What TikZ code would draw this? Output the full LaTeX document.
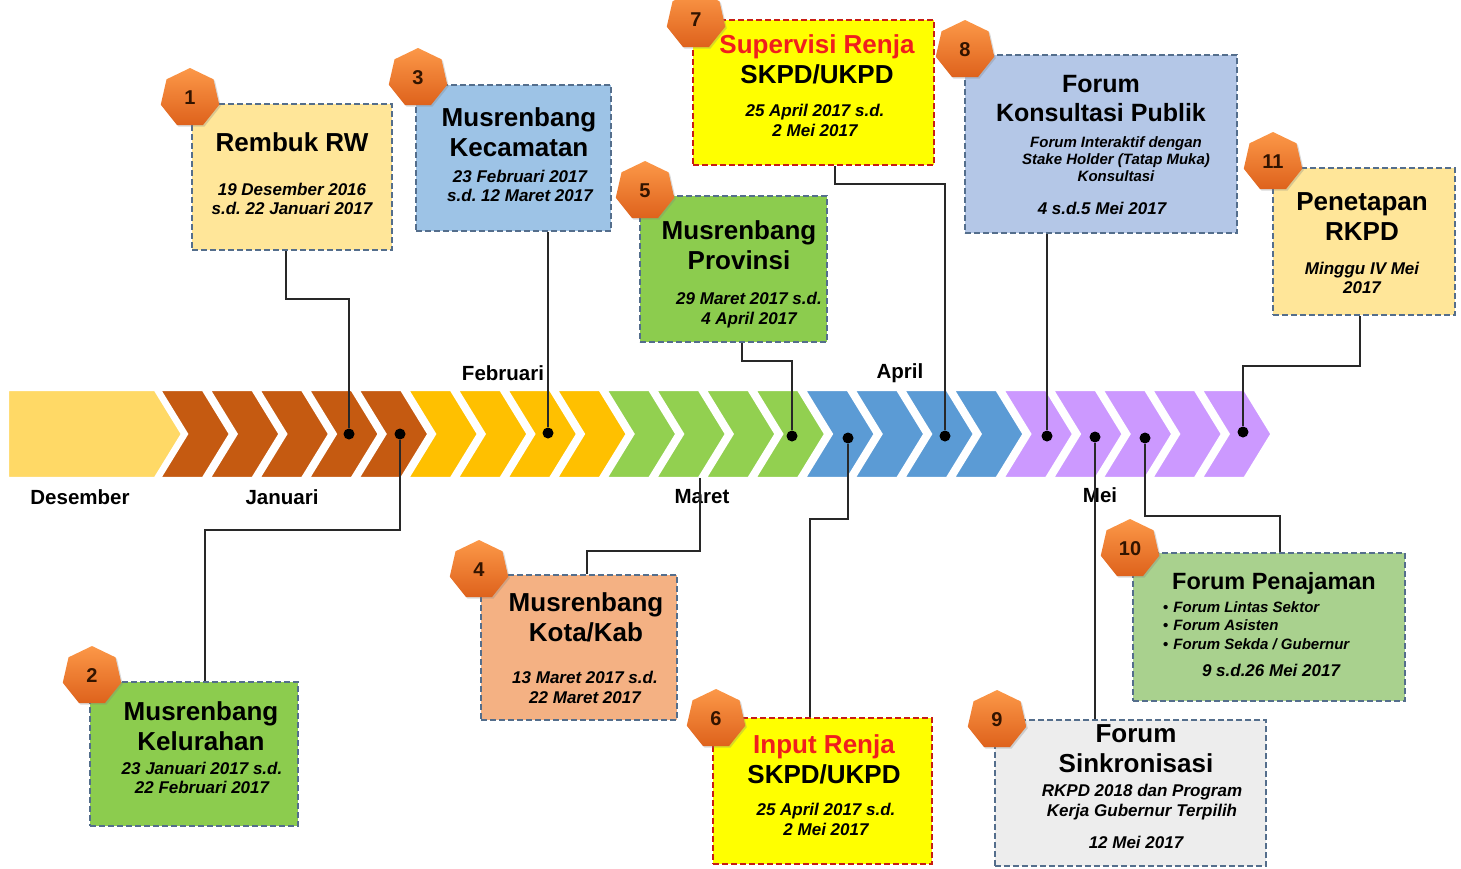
\documentclass[tikz,border=0pt]{standalone}
\usepackage{fontspec}
\setmainfont{Liberation Sans}
\usetikzlibrary{shapes.geometric,shadows}

\definecolor{decfill}{RGB}{255,217,102}
\definecolor{janfill}{RGB}{197,90,17}
\definecolor{febfill}{RGB}{255,192,0}
\definecolor{marfill}{RGB}{146,208,80}
\definecolor{aprfill}{RGB}{91,155,213}
\definecolor{meifill}{RGB}{204,153,255}
\definecolor{boxline}{RGB}{84,110,140}
\definecolor{boxred}{RGB}{200,30,20}
\definecolor{titlered}{RGB}{240,30,30}
\definecolor{linkgray}{RGB}{40,40,40}
\definecolor{numtext}{RGB}{50,20,0}
\definecolor{paleyellow}{RGB}{255,230,153}
\definecolor{leafgreen}{RGB}{140,204,78}
\definecolor{skyblue}{RGB}{157,195,230}
\definecolor{salmon}{RGB}{244,177,131}
\definecolor{lemon}{RGB}{255,255,0}
\definecolor{lavblue}{RGB}{180,199,231}
\definecolor{palegray}{RGB}{237,237,237}
\definecolor{sagegreen}{RGB}{169,209,142}
\definecolor{badgetop}{RGB}{252,152,72}
\definecolor{badgebot}{RGB}{222,98,28}

\newcommand\ttlfont{\fontsize{26}{30}\selectfont\bfseries}
\newcommand\datefont{\fontsize{17}{19.5}\selectfont\bfseries\itshape}
\newcommand\notefont{\fontsize{15}{17}\selectfont\bfseries\itshape}
\newcommand\monthfont{\fontsize{20.5}{24}\selectfont\bfseries}
\newcommand\badgefont{\fontsize{20}{24}\selectfont\bfseries}
\frenchspacing

\tikzset{
  stage/.style={draw=boxline, line width=1.8pt, dash pattern=on 6pt off 3pt, inner sep=0pt},
  redstage/.style={stage, draw=boxred},
  badge/.style={regular polygon, regular polygon sides=7, minimum size=60pt, inner sep=0pt,
    top color=badgetop, bottom color=badgebot, text=numtext, font=\badgefont,
    drop shadow={shadow xshift=1.5pt, shadow yshift=-1.5pt, opacity=0.3}},
  ttl/.style={font=\ttlfont, align=center, inner sep=0pt},
  dte/.style={font=\datefont, align=center, inner sep=0pt},
  note/.style={font=\notefont, align=center, inner sep=0pt},
  month/.style={font=\monthfont, inner sep=0pt},
  link/.style={draw=linkgray, line width=1.4pt},
  dot/.style={circle, fill=black, inner sep=0pt, minimum size=11pt}
}

\begin{document}
\begin{tikzpicture}[x=1pt,y=-1pt]
  \useasboundingbox (0,0) rectangle (1461,868);

  % timeline band
  \filldraw[fill=decfill, draw=white, line width=2.4pt] (8,390) -- (155,390) -- (182,434) -- (155,478) -- (8,478) -- cycle;
  \foreach \c/\a/\b in {janfill/0/4, febfill/5/8, marfill/9/12, aprfill/13/16, meifill/17/21}
    \foreach \i in {\a,...,\b}
      \filldraw[fill=\c, draw=white, line width=2.4pt] ({160+49.6*\i},390) -- ++(43,0) -- ++(27,44) -- ++(-27,44) -- ++(-43,0) -- ++(27,-44) -- cycle;

  \node[month] (mdes) at (80,497) {Desember};
  \node[month] (mjan) at (282,497) {Januari};
  \node[month] (mfeb) at (503,373) {Februari};
  \node[month] (mmar) at (702,497) {Maret};
  \node[month] (mapr) at (900,373) {April};
  \node[month] (mmei) at (1100,495) {Mei};

  \node[dot] (dot1) at (349,434) {}; \node[dot] (dot2) at (400,434) {};
  \node[dot] (dot3) at (548,433) {}; \coordinate (dot4) at (700,478);
  \node[dot] (dot5) at (792,436) {}; \node[dot] (dot6) at (848,438) {};
  \node[dot] (dot7) at (945,436) {}; \node[dot] (dot8) at (1047,436) {};
  \node[dot] (dot9) at (1095,437) {}; \node[dot] (dot10) at (1145,438) {};
  \node[dot] (dot11) at (1243,432) {};

  % stage boxes
  \node[stage, fill=paleyellow, minimum width=200pt, minimum height=146pt] (box1) at (292,177) {};
  \node[ttl] (ttl1) at (292,142) {Rembuk RW};
  \node[dte] (info1) at (292,199) {19 Desember 2016\\s.d. 22 Januari 2017};

  \node[stage, fill=leafgreen, minimum width=208pt, minimum height=144pt] (box2) at (194,754) {};
  \node[ttl] (ttl2) at (201,726) {Musrenbang\\Kelurahan};
  \node[dte] (info2) at (202,778) {23 Januari 2017 s.d.\\22 Februari 2017};

  \node[stage, fill=skyblue, minimum width=195pt, minimum height=146pt] (box3) at (513.5,158) {};
  \node[ttl] (ttl3) at (519,132) {Musrenbang\\Kecamatan};
  \node[dte] (info3) at (520,186) {23 Februari 2017\\s.d. 12 Maret 2017};

  \node[stage, fill=salmon, minimum width=196pt, minimum height=145pt] (box4) at (579,647.5) {};
  \node[ttl] (ttl4) at (586,617) {Musrenbang\\Kota/Kab};
  \node[dte] (info4) at (585,687.5) {13 Maret 2017 s.d.\\22 Maret 2017};

  \node[stage, fill=leafgreen, minimum width=187pt, minimum height=146pt] (box5) at (733.5,269) {};
  \node[ttl] (ttl5) at (739,245.5) {Musrenbang\\Provinsi};
  \node[dte] (info5) at (749,310) {29 Maret 2017 s.d.\\4 April 2017};

  \node[redstage, fill=lemon, minimum width=219pt, minimum height=146pt] (box6) at (822.5,791) {};
  \node[ttl] (ttl6) at (824,759.5) {{\color{titlered}Input Renja}\\SKPD/UKPD};
  \node[dte] (info6) at (826,819.5) {25 April 2017 s.d.\\2 Mei 2017};

  \node[redstage, fill=lemon, minimum width=241pt, minimum height=145pt] (box7) at (813.5,92.5) {};
  \node[ttl] (ttl7) at (817,59.5) {{\color{titlered}Supervisi Renja}\\SKPD/UKPD};
  \node[dte] (info7) at (815,120.5) {25 April 2017 s.d.\\2 Mei 2017};

  \node[stage, fill=lavblue, minimum width=272pt, minimum height=178pt] (box8) at (1101,144) {};
  \node[ttl, font=\fontsize{25}{29}\selectfont\bfseries] (ttl8) at (1101,98.5) {Forum\\Konsultasi Publik};
  \node[note] (note8) at (1116,159) {Forum Interaktif dengan\\Stake Holder (Tatap Muka)\\Konsultasi};
  \node[dte] (info8) at (1102,208) {4 s.d.5 Mei 2017};

  \node[stage, fill=palegray, minimum width=271pt, minimum height=146pt] (box9) at (1130.5,793) {};
  \node[ttl] (ttl9) at (1136,749) {Forum\\Sinkronisasi};
  \node[dte, font=\fontsize{17}{20}\selectfont\bfseries\itshape] (note9) at (1142,802) {RKPD 2018 dan Program\\Kerja Gubernur Terpilih};
  \node[dte] (info9) at (1136,842) {12 Mei 2017};

  \node[stage, fill=sagegreen, minimum width=272pt, minimum height=148pt] (box10) at (1269,627) {};
  \node[ttl, font=\fontsize{23.5}{28}\selectfont\bfseries] (ttl10) at (1274,583) {Forum Penajaman};
  \node[note, align=left, anchor=west, font=\fontsize{15}{18.5}\selectfont\bfseries\itshape] (note10) at (1163,625.5)
    {{\upshape\textbullet}\hspace{5pt}Forum Lintas Sektor\\{\upshape\textbullet}\hspace{5pt}Forum Asisten\\{\upshape\textbullet}\hspace{5pt}Forum Sekda / Gubernur};
  \node[dte] (info10) at (1271,670) {9 s.d.26 Mei 2017};

  \node[stage, fill=paleyellow, minimum width=182pt, minimum height=147pt] (box11) at (1364,241.5) {};
  \node[ttl] (ttl11) at (1362,217) {Penetapan\\RKPD};
  \node[dte] (info11) at (1362,278) {Minggu IV Mei\\2017};

  % connectors
  \draw[link] ([xshift=-6pt]box1.south) -- ++(0,48) -| (dot1);
  \draw[link] (dot2) -- ++(0,96) -| ([xshift=11pt]box2.north);
  \draw[link] (box3.south -| dot3) -- (dot3);
  \draw[link] ([xshift=8pt]box4.north) -- ++(0,-23) -| (dot4);
  \draw[link] ([xshift=8.5pt]box5.south) -- ++(0,18) -| (dot5);
  \draw[link] ([xshift=-12.5pt]box6.north) -- ++(0,-198) -| (dot6);
  \draw[link] ([xshift=21.5pt]box7.south) -- ++(0,18) -| (dot7);
  \draw[link] (box8.south -| dot8) -- (dot8);
  \draw[link] (box9.north -| dot9) -- (dot9);
  \draw[link] ([xshift=11pt]box10.north) -- ++(0,-36) -| (dot10);
  \draw[link] ([xshift=-4pt]box11.south) -- ++(0,50) -| (dot11);

  % number badges
  \node[badge] (n1) at (190,98) {1};
  \node[badge] (n2) at (92,676) {2};
  \node[badge] (n3) at (418,78) {3};
  \node[badge] (n4) at (479,570) {4};
  \node[badge] (n5) at (645,191) {5};
  \node[badge] (n6) at (716,719) {6};
  \node[badge] (n7) at (696,20) {7};
  \node[badge] (n8) at (965,50) {8};
  \node[badge] (n9) at (997,720) {9};
  \node[badge] (n10) at (1130,549) {10};
  \node[badge] (n11) at (1273,162) {11};
\end{tikzpicture}
\end{document}
